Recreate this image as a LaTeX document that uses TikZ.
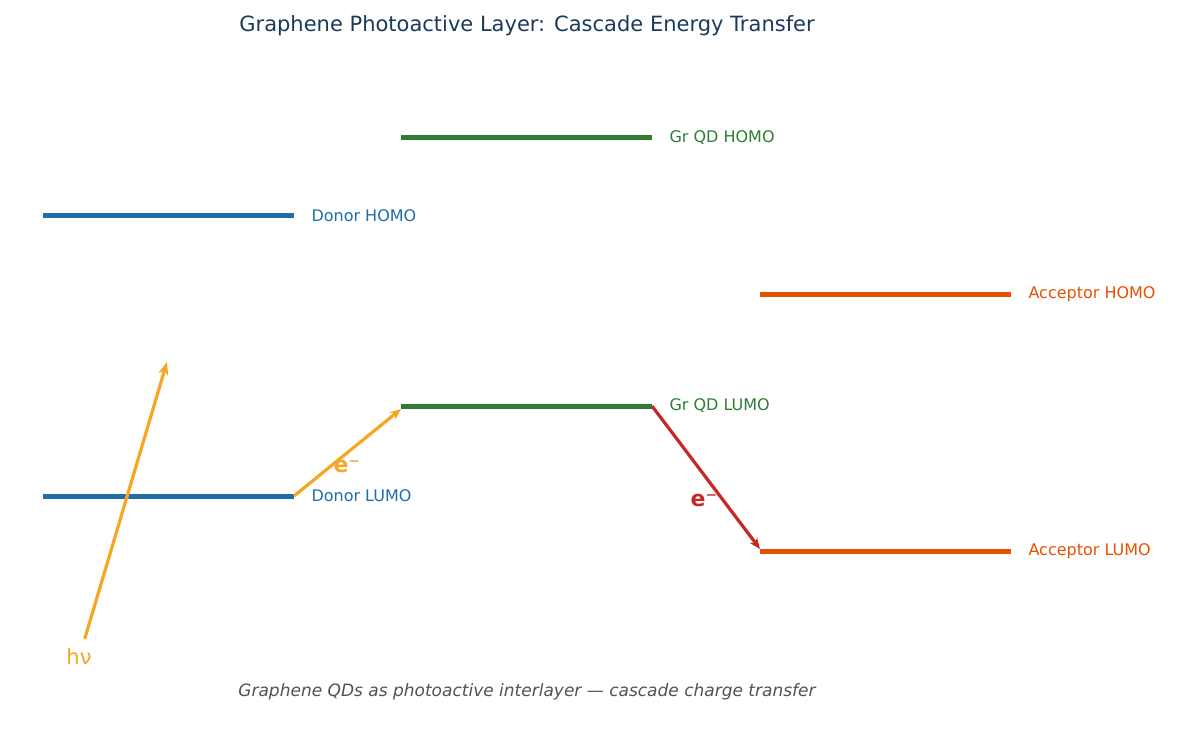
\documentclass[tikz,border=0pt]{standalone}
\usepackage{fontspec}
\setmainfont{DejaVu Sans}
\usetikzlibrary{positioning, arrows.meta}
\definecolor{donor}{HTML}{1F6EA8}
\definecolor{grqd}{HTML}{2E7D32}
\definecolor{acc}{HTML}{E65100}
\definecolor{light}{HTML}{F5A623}
\definecolor{hop}{HTML}{C62828}
\definecolor{navy}{HTML}{1A3A5C}

\begin{document}
\begin{tikzpicture}[x=1pt, y=-1pt, level/.style={line width=5pt}, lab/.style={anchor=west, font=\fontsize{16}{18}\selectfont}, jump/.style={-{Stealth[length=11pt,width=9pt,open]}, line width=3.2pt}]
\useasboundingbox (0,0) rectangle (1185,735);
\node[font=\fontsize{21}{24}\selectfont, text=navy] (title) at (527,26) {Graphene Photoactive Layer: Cascade Energy Transfer};

% energy levels
\coordinate (dh1) at (43,216);  \coordinate (dh2) at (294,216);
\coordinate (dl1) at (43,496);  \coordinate (dl2) at (294,496);
\coordinate (gh1) at (401,138); \coordinate (gh2) at (652,138);
\coordinate (gl1) at (401,406); \coordinate (gl2) at (652,406);
\coordinate (ah1) at (760,294); \coordinate (ah2) at (1011,294);
\coordinate (al1) at (760,551); \coordinate (al2) at (1011,551);
\draw[level, donor] (dh1) -- (dh2);
\draw[level, donor] (dl1) -- (dl2);
\draw[level, grqd] (gh1) -- (gh2);
\draw[level, grqd] (gl1) -- (gl2);
\draw[level, acc] (ah1) -- (ah2);
\draw[level, acc] (al1) -- (al2);
\node[lab, text=donor, right=14pt of dh2] (dhl) {Donor HOMO};
\node[lab, text=donor, right=14pt of dl2] (dll) {Donor LUMO};
\node[lab, text=grqd, right=14pt of gh2] (ghl) {Gr QD HOMO};
\node[lab, text=grqd, right=14pt of gl2] (gll) {Gr QD LUMO};
\node[lab, text=acc, right=14pt of ah2] (ahl) {Acceptor HOMO};
\node[lab, text=acc, right=14pt of al2] (all) {Acceptor LUMO};

% transfer
\coordinate (hv1) at (85,638); \coordinate (hv2) at (167,362);
\draw[-{Stealth[length=13pt,width=10pt,open]}, line width=3.2pt, light, line cap=round] (hv1) -- (hv2);
\node[font=\fontsize{21}{24}\selectfont, text=light] (hv) at (79,657) {hν};
\coordinate (gin) at (401,409);
\draw[jump, light] (dl2) -- (gin);
\node[font=\bfseries\fontsize{22}{24}\selectfont, text=light] (e1) at (347,466) {e⁻};
\coordinate (ain) at (760,549);
\draw[jump, hop] (gl2) -- (ain);
\node[font=\bfseries\fontsize{22}{24}\selectfont, text=hop] (e2) at (704,500) {e⁻};

\node[font=\itshape\fontsize{17}{20}\selectfont, text=black!68] (cap) at (527,692) {Graphene QDs as photoactive interlayer — cascade charge transfer};
\end{tikzpicture}
\end{document}
